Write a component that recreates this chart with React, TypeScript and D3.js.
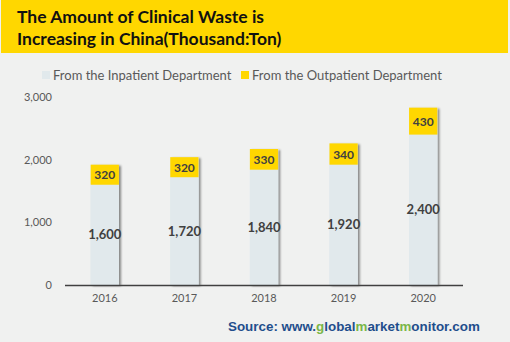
import React from "react";
import * as d3 from "d3";

const years = ["2016", "2017", "2018", "2019", "2020"];
const inpatient = [1600, 1720, 1840, 1920, 2400];
const outpatient = [320, 320, 330, 340, 430];
const yTicks = [0, 1000, 2000, 3000];
const titleLines = ["The Amount of Clinical Waste is", "Increasing in China(Thousand:Ton)"];
const seriesNames = ["From the Inpatient Department", "From the Outpatient Department"];

const W = 510;
const H = 342;
const C_IN = "#e1e9ec";
const C_OUT = "#ffd700";
const BG = "#f0f1f0";

export default function App() {
  const x = d3.scaleBand().domain(years).range([65, 463]).paddingInner(0.645).paddingOuter(0.3225);
  const y = d3.scaleLinear().domain([0, 3000]).range([285, 97]);
  const fmt = d3.format(",");
  const labelFont = "Lato, 'Open Sans', sans-serif";
  return (
    <div style={{ position: "fixed", left: 0, top: 0 }}>
      <svg width={W} height={H} style={{ display: "block" }}>
        <defs>
          <filter id="sh" x="-30%" y="-10%" width="160%" height="130%">
            <feDropShadow dx="2" dy="1" stdDeviation="1.2" floodColor="#000" floodOpacity="0.45" />
          </filter>
        </defs>
        <rect x={0} y={0} width={W} height={H} fill={BG} />
        <rect x={1} y={0} width={507} height={53} fill={C_OUT} />
        {titleLines.map((t, i) => (
          <text key={i} x={17} y={23 + i * 22} fontFamily={labelFont} fontWeight="bold" fontSize={17.5} fill="#111">
            {t}
          </text>
        ))}
        {/* legend */}
        <rect x={42} y={71} width={8} height={8} fill={C_IN} />
        <text x={53} y={79.5} fontFamily={labelFont} fontSize={13} fill="#595959">{seriesNames[0]}</text>
        <rect x={241} y={71} width={8} height={8} fill={C_OUT} />
        <text x={252} y={79.5} fontFamily={labelFont} fontSize={13} fill="#595959">{seriesNames[1]}</text>
        {/* y ticks */}
        {yTicks.map((t) => (
          <text key={t} x={52} y={y(t) + 4} textAnchor="end" fontFamily={labelFont} fontSize={11} fill="#595959">
            {fmt(t)}
          </text>
        ))}
        {/* bars */}
        {years.map((yr, i) => {
          const bx = x(yr)!;
          const bw = x.bandwidth();
          const top = inpatient[i] + outpatient[i];
          return (
            <g key={yr}>
              <g filter="url(#sh)">
                <rect x={bx} y={y(top)} width={bw} height={y(0) - y(top)} fill={C_IN} />
              </g>
              <rect x={bx} y={y(inpatient[i])} width={bw} height={y(0) - y(inpatient[i])} fill={C_IN} />
              <rect x={bx} y={y(top)} width={bw} height={y(inpatient[i]) - y(top)} fill={C_OUT} />
              <text x={bx + bw / 2} y={y(inpatient[i] / 2) + 4.5} textAnchor="middle" fontFamily={labelFont} fontWeight="bold" fontSize={13} fill="#404040">
                {fmt(inpatient[i])}
              </text>
              <text x={bx + bw / 2} y={y(inpatient[i] + outpatient[i] / 2) + 4.5} textAnchor="middle" fontFamily={labelFont} fontWeight="bold" fontSize={12} fill="#404040">
                {fmt(outpatient[i])}
              </text>
              <text x={bx + bw / 2} y={302} textAnchor="middle" fontFamily={labelFont} fontSize={11} fill="#595959">
                {yr}
              </text>
            </g>
          );
        })}
        <line x1={65} x2={463} y1={285.5} y2={285.5} stroke="#404040" strokeWidth={1.5} />
        <text x={228} y={331} fontFamily="'Liberation Sans', Arial, sans-serif" fontWeight="bold" fontSize={13.4} fill="#1f4e8c">
          <tspan>Source: www.</tspan>
          <tspan fill="#7ab648">g</tspan>
          <tspan>lobal</tspan>
          <tspan fill="#7ab648">m</tspan>
          <tspan>arket</tspan>
          <tspan fill="#7ab648">m</tspan>
          <tspan>onitor.com</tspan>
        </text>
      </svg>
    </div>
  );
}
